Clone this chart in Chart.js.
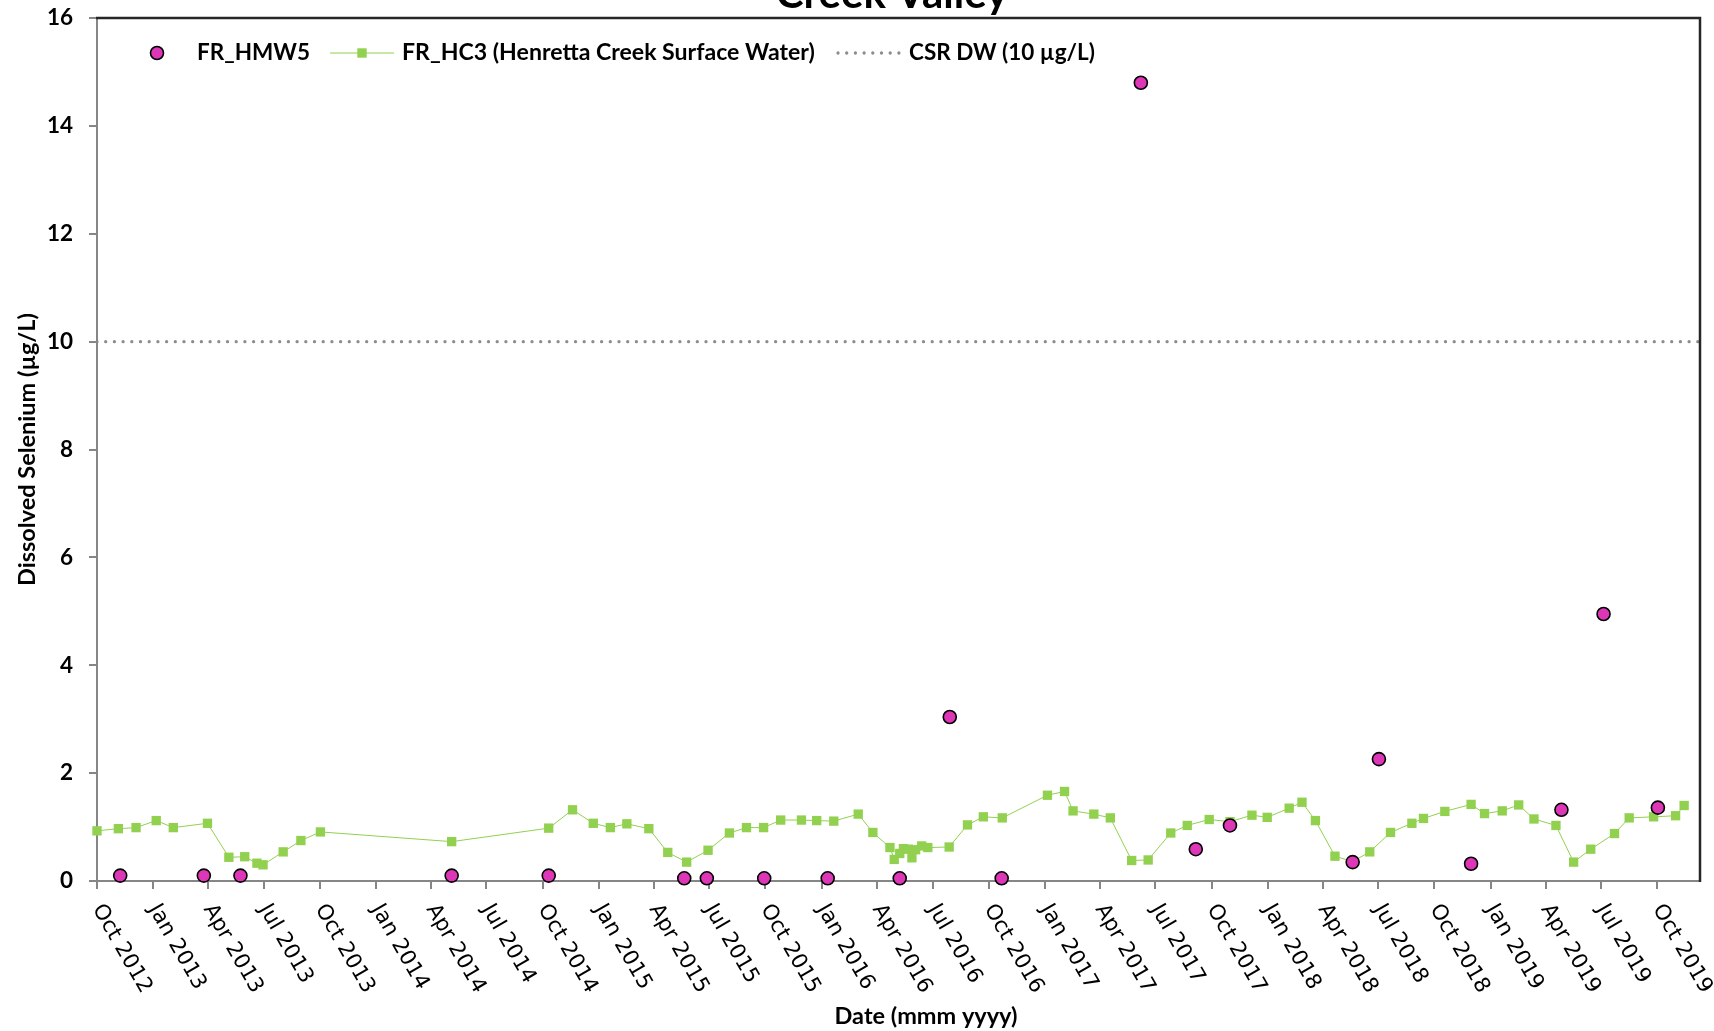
<!DOCTYPE html>
<html>
<head>
<meta charset="utf-8">
<script src="https://cdn.jsdelivr.net/npm/chart.js@4.4.1/dist/chart.umd.min.js"></script>
<style>
  html, body { margin: 0; padding: 0; background: #ffffff; overflow: hidden; }
  canvas { display: block; }
</style>
</head>
<body>
<canvas id="chart" width="1714" height="1031"></canvas>
<script>
// Groundwater well FR_HMW5 (dissolved selenium, µg/L)
const hmw5Dates = ['2012-11-08','2013-03-25','2013-05-24','2014-05-05','2014-10-11','2015-05-21','2015-06-27',
  '2015-09-29','2016-01-11','2016-05-08','2016-07-29','2016-10-22','2017-06-07','2017-09-05','2017-10-31',
  '2018-05-20','2018-07-02','2018-11-30','2019-04-27','2019-07-05','2019-10-02'];
const hmw5Values = [0.1, 0.1, 0.1, 0.1, 0.1, 0.05, 0.05,
  0.05, 0.05, 0.05, 3.04, 0.05, 14.8, 0.59, 1.03,
  0.35, 2.26, 0.32, 1.32, 4.95, 1.36];

// Surface water station FR_HC3 (Henretta Creek)
const hc3Dates = ['2012-10-01','2012-11-05','2012-12-04','2013-01-06','2013-02-03','2013-03-31','2013-05-05',
  '2013-05-31','2013-06-20','2013-06-30','2013-08-02','2013-08-31','2013-10-02','2014-05-05','2014-10-11',
  '2014-11-19','2014-12-23','2015-01-20','2015-02-16','2015-03-24','2015-04-24','2015-05-25','2015-06-29',
  '2015-08-03','2015-08-31','2015-09-28','2015-10-26','2015-11-29','2015-12-24','2016-01-21','2016-03-01',
  '2016-03-25','2016-04-22','2016-04-29','2016-05-08','2016-05-14','2016-05-22','2016-05-28','2016-06-03',
  '2016-06-13','2016-06-23','2016-07-28','2016-08-27','2016-09-22','2016-10-23','2017-01-05','2017-02-02',
  '2017-02-16','2017-03-22','2017-04-18','2017-05-23','2017-06-19','2017-07-26','2017-08-22','2017-09-27',
  '2017-10-31','2017-12-06','2017-12-31','2018-02-05','2018-02-26','2018-03-20','2018-04-21','2018-05-20',
  '2018-06-17','2018-07-21','2018-08-25','2018-09-13','2018-10-18','2018-11-30','2018-12-22','2019-01-20',
  '2019-02-16','2019-03-13','2019-04-18','2019-05-17','2019-06-14','2019-07-23','2019-08-16','2019-09-25',
  '2019-10-31','2019-11-14'];
const hc3Values = [0.93, 0.97, 0.99, 1.12, 0.99, 1.07, 0.44,
  0.45, 0.33, 0.30, 0.54, 0.75, 0.91, 0.73, 0.98,
  1.32, 1.07, 0.99, 1.06, 0.97, 0.53, 0.35, 0.57,
  0.89, 0.99, 0.99, 1.13, 1.13, 1.12, 1.11, 1.24,
  0.90, 0.62, 0.40, 0.51, 0.60, 0.59, 0.43, 0.58,
  0.65, 0.62, 0.63, 1.04, 1.19, 1.17, 1.59, 1.66,
  1.30, 1.24, 1.17, 0.38, 0.39, 0.89, 1.03, 1.14,
  1.10, 1.22, 1.18, 1.35, 1.46, 1.12, 0.46, 0.36,
  0.54, 0.90, 1.07, 1.16, 1.29, 1.42, 1.25, 1.30,
  1.41, 1.15, 1.03, 0.35, 0.59, 0.88, 1.17, 1.19,
  1.21, 1.40];

// Drinking-water standard
const csrLimit = 10;

// Date axis
const axisStart = '2012-10-01';
const axisEnd = '2019-12-10';
const xTickDates = ['2012-10-01','2013-01-01','2013-04-01','2013-07-01','2013-10-01','2014-01-01','2014-04-01',
  '2014-07-01','2014-10-01','2015-01-01','2015-04-01','2015-07-01','2015-10-01','2016-01-01','2016-04-01',
  '2016-07-01','2016-10-01','2017-01-01','2017-04-01','2017-07-01','2017-10-01','2018-01-01','2018-04-01',
  '2018-07-01','2018-10-01','2019-01-01','2019-04-01','2019-07-01','2019-10-01'];
const xTickLabels = ['Oct 2012','Jan 2013','Apr 2013','Jul 2013','Oct 2013','Jan 2014','Apr 2014',
  'Jul 2014','Oct 2014','Jan 2015','Apr 2015','Jul 2015','Oct 2015','Jan 2016','Apr 2016',
  'Jul 2016','Oct 2016','Jan 2017','Apr 2017','Jul 2017','Oct 2017','Jan 2018','Apr 2018',
  'Jul 2018','Oct 2018','Jan 2019','Apr 2019','Jul 2019','Oct 2019'];

const chartTitle = 'Creek Valley';
const xAxisTitle = 'Date (mmm yyyy)';
const yAxisTitle = 'Dissolved Selenium (µg/L)';
const seriesNames = ['FR_HMW5', 'FR_HC3 (Henretta Creek Surface Water)', 'CSR DW (10 µg/L)'];

const MAGENTA = '#DD37B8';
const GREEN = '#92D050';
const DOT_GREY = '#8C8C8C';
const AXIS_GREY = '#868686';
const BOLD_FONT = 'Lato';
const TICK_FONT = 'DejaVu Sans';
const LABEL_SIZE = 22.5;
const TITLE_SIZE = 23.5;

const toPoints = (dates, values) => dates.map((d, i) => ({ x: Date.parse(d), y: values[i] }));

const overlay = {
  id: 'overlay',
  afterDraw(chart) {
    const { ctx, chartArea: a, scales: { x } } = chart;
    const ds = chart.data.datasets;
    ctx.save();

    // plot frame on the top and right sides
    ctx.strokeStyle = '#262626';
    ctx.lineWidth = 2.5;
    ctx.beginPath();
    ctx.moveTo(a.left - 1, a.top);
    ctx.lineTo(a.right, a.top);
    ctx.lineTo(a.right, a.bottom + 1);
    ctx.stroke();

    // slanted date labels
    ctx.fillStyle = '#000';
    ctx.font = `21.5px "${TICK_FONT}"`;
    ctx.textAlign = 'left';
    ctx.textBaseline = 'middle';
    x.ticks.forEach((t, i) => {
      const px = x.getPixelForValue(t.value);
      ctx.save();
      ctx.translate(px, a.bottom + 25);
      ctx.rotate(Math.PI / 3);
      ctx.fillText(xTickLabels[i], 0, 0);
      ctx.restore();
    });

    // x axis title
    ctx.font = `bold ${TITLE_SIZE}px ${BOLD_FONT}`;
    ctx.textAlign = 'center';
    ctx.fillText(xAxisTitle, 926, 1016);

    // chart title, running off the top edge
    ctx.font = `bold 42px ${BOLD_FONT}`;
    ctx.textBaseline = 'alphabetic';
    ctx.fillText(chartTitle, 892, 8);

    // legend
    const ly = 53;
    ctx.font = `bold ${LABEL_SIZE}px ${BOLD_FONT}`;
    ctx.textAlign = 'left';
    ctx.textBaseline = 'middle';

    ctx.beginPath();
    ctx.arc(157, ly, 6.5, 0, Math.PI * 2);
    ctx.fillStyle = ds[0].backgroundColor;
    ctx.fill();
    ctx.lineWidth = 1.6;
    ctx.strokeStyle = '#000';
    ctx.stroke();
    ctx.fillStyle = '#000';
    ctx.fillText(seriesNames[0], 197, ly);

    ctx.strokeStyle = ds[1].borderColor;
    ctx.lineWidth = 1;
    ctx.beginPath();
    ctx.moveTo(330, ly);
    ctx.lineTo(394, ly);
    ctx.stroke();
    ctx.fillStyle = ds[1].backgroundColor;
    ctx.fillRect(362 - 4.7, ly - 4.7, 9.4, 9.4);
    ctx.fillStyle = '#000';
    ctx.font = `bold ${LABEL_SIZE + 0.6}px ${BOLD_FONT}`;
    ctx.fillText(seriesNames[1], 402, ly);

    ctx.strokeStyle = ds[2].borderColor;
    ctx.lineWidth = ds[2].borderWidth;
    ctx.lineCap = 'round';
    ctx.setLineDash(ds[2].borderDash);
    ctx.beginPath();
    ctx.moveTo(838, ly);
    ctx.lineTo(901, ly);
    ctx.stroke();
    ctx.setLineDash([]);
    ctx.fillStyle = '#000';
    ctx.font = `bold ${LABEL_SIZE}px ${BOLD_FONT}`;
    ctx.fillText(seriesNames[2], 909, ly);

    ctx.restore();
  }
};

function build() {
  new Chart(document.getElementById('chart'), {
    type: 'line',
    data: {
      datasets: [
        {
          label: seriesNames[0],
          data: toPoints(hmw5Dates, hmw5Values),
          showLine: false,
          pointStyle: 'circle',
          pointRadius: 6.5,
          pointBackgroundColor: MAGENTA,
          backgroundColor: MAGENTA,
          pointBorderColor: '#000000',
          pointBorderWidth: 1.6,
          clip: false
        },
        {
          label: seriesNames[1],
          data: toPoints(hc3Dates, hc3Values),
          borderColor: GREEN,
          backgroundColor: GREEN,
          borderWidth: 1,
          tension: 0,
          pointStyle: 'rect',
          pointRadius: 6.6,
          pointBackgroundColor: GREEN,
          pointBorderWidth: 0,
          clip: false
        },
        {
          label: seriesNames[2],
          data: [{ x: Date.parse(axisStart), y: csrLimit }, { x: Date.parse(axisEnd), y: csrLimit }],
          borderColor: DOT_GREY,
          borderWidth: 3.3,
          borderDash: [0, 8.7],
          borderCapStyle: 'round',
          pointRadius: 0,
          fill: false
        }
      ]
    },
    options: {
      responsive: false,
      devicePixelRatio: 1,
      animation: false,
      events: [],
      layout: { padding: { top: 18, right: 14, left: 0, bottom: 0 } },
      plugins: { legend: { display: false }, tooltip: { enabled: false }, title: { display: false } },
      scales: {
        x: {
          type: 'linear',
          min: Date.parse(axisStart),
          max: Date.parse(axisEnd),
          afterBuildTicks: (s) => { s.ticks = xTickDates.map(d => ({ value: Date.parse(d) })); },
          afterFit: (s) => { s.height = 150; s.paddingLeft = 0; s.paddingRight = 0; },
          ticks: { display: false },
          grid: { drawOnChartArea: false, drawTicks: true, tickLength: 8, color: AXIS_GREY, lineWidth: 2 },
          border: { color: AXIS_GREY, width: 2 }
        },
        y: {
          min: 0,
          max: 16,
          afterFit: (s) => { s.width = 97; s.paddingTop = 0; s.paddingBottom = 0; },
          ticks: { stepSize: 2, padding: 16, color: '#000', font: { family: BOLD_FONT, weight: 'bold', size: LABEL_SIZE } },
          grid: { drawOnChartArea: false, drawTicks: true, tickLength: 8, color: AXIS_GREY, lineWidth: 2 },
          border: { color: AXIS_GREY, width: 2 },
          title: {
            display: true,
            text: yAxisTitle,
            color: '#000',
            font: { family: BOLD_FONT, weight: 'bold', size: TITLE_SIZE },
            padding: { top: 12.9, bottom: 0 }
          }
        }
      }
    },
    plugins: [overlay]
  });
}

const fontLoads = document.fonts
  ? Promise.all([document.fonts.load(`bold 21px ${BOLD_FONT}`), document.fonts.load(`21px "${TICK_FONT}"`)]).catch(() => {})
  : Promise.resolve();
fontLoads.then(build, build);
</script>
</body>
</html>
